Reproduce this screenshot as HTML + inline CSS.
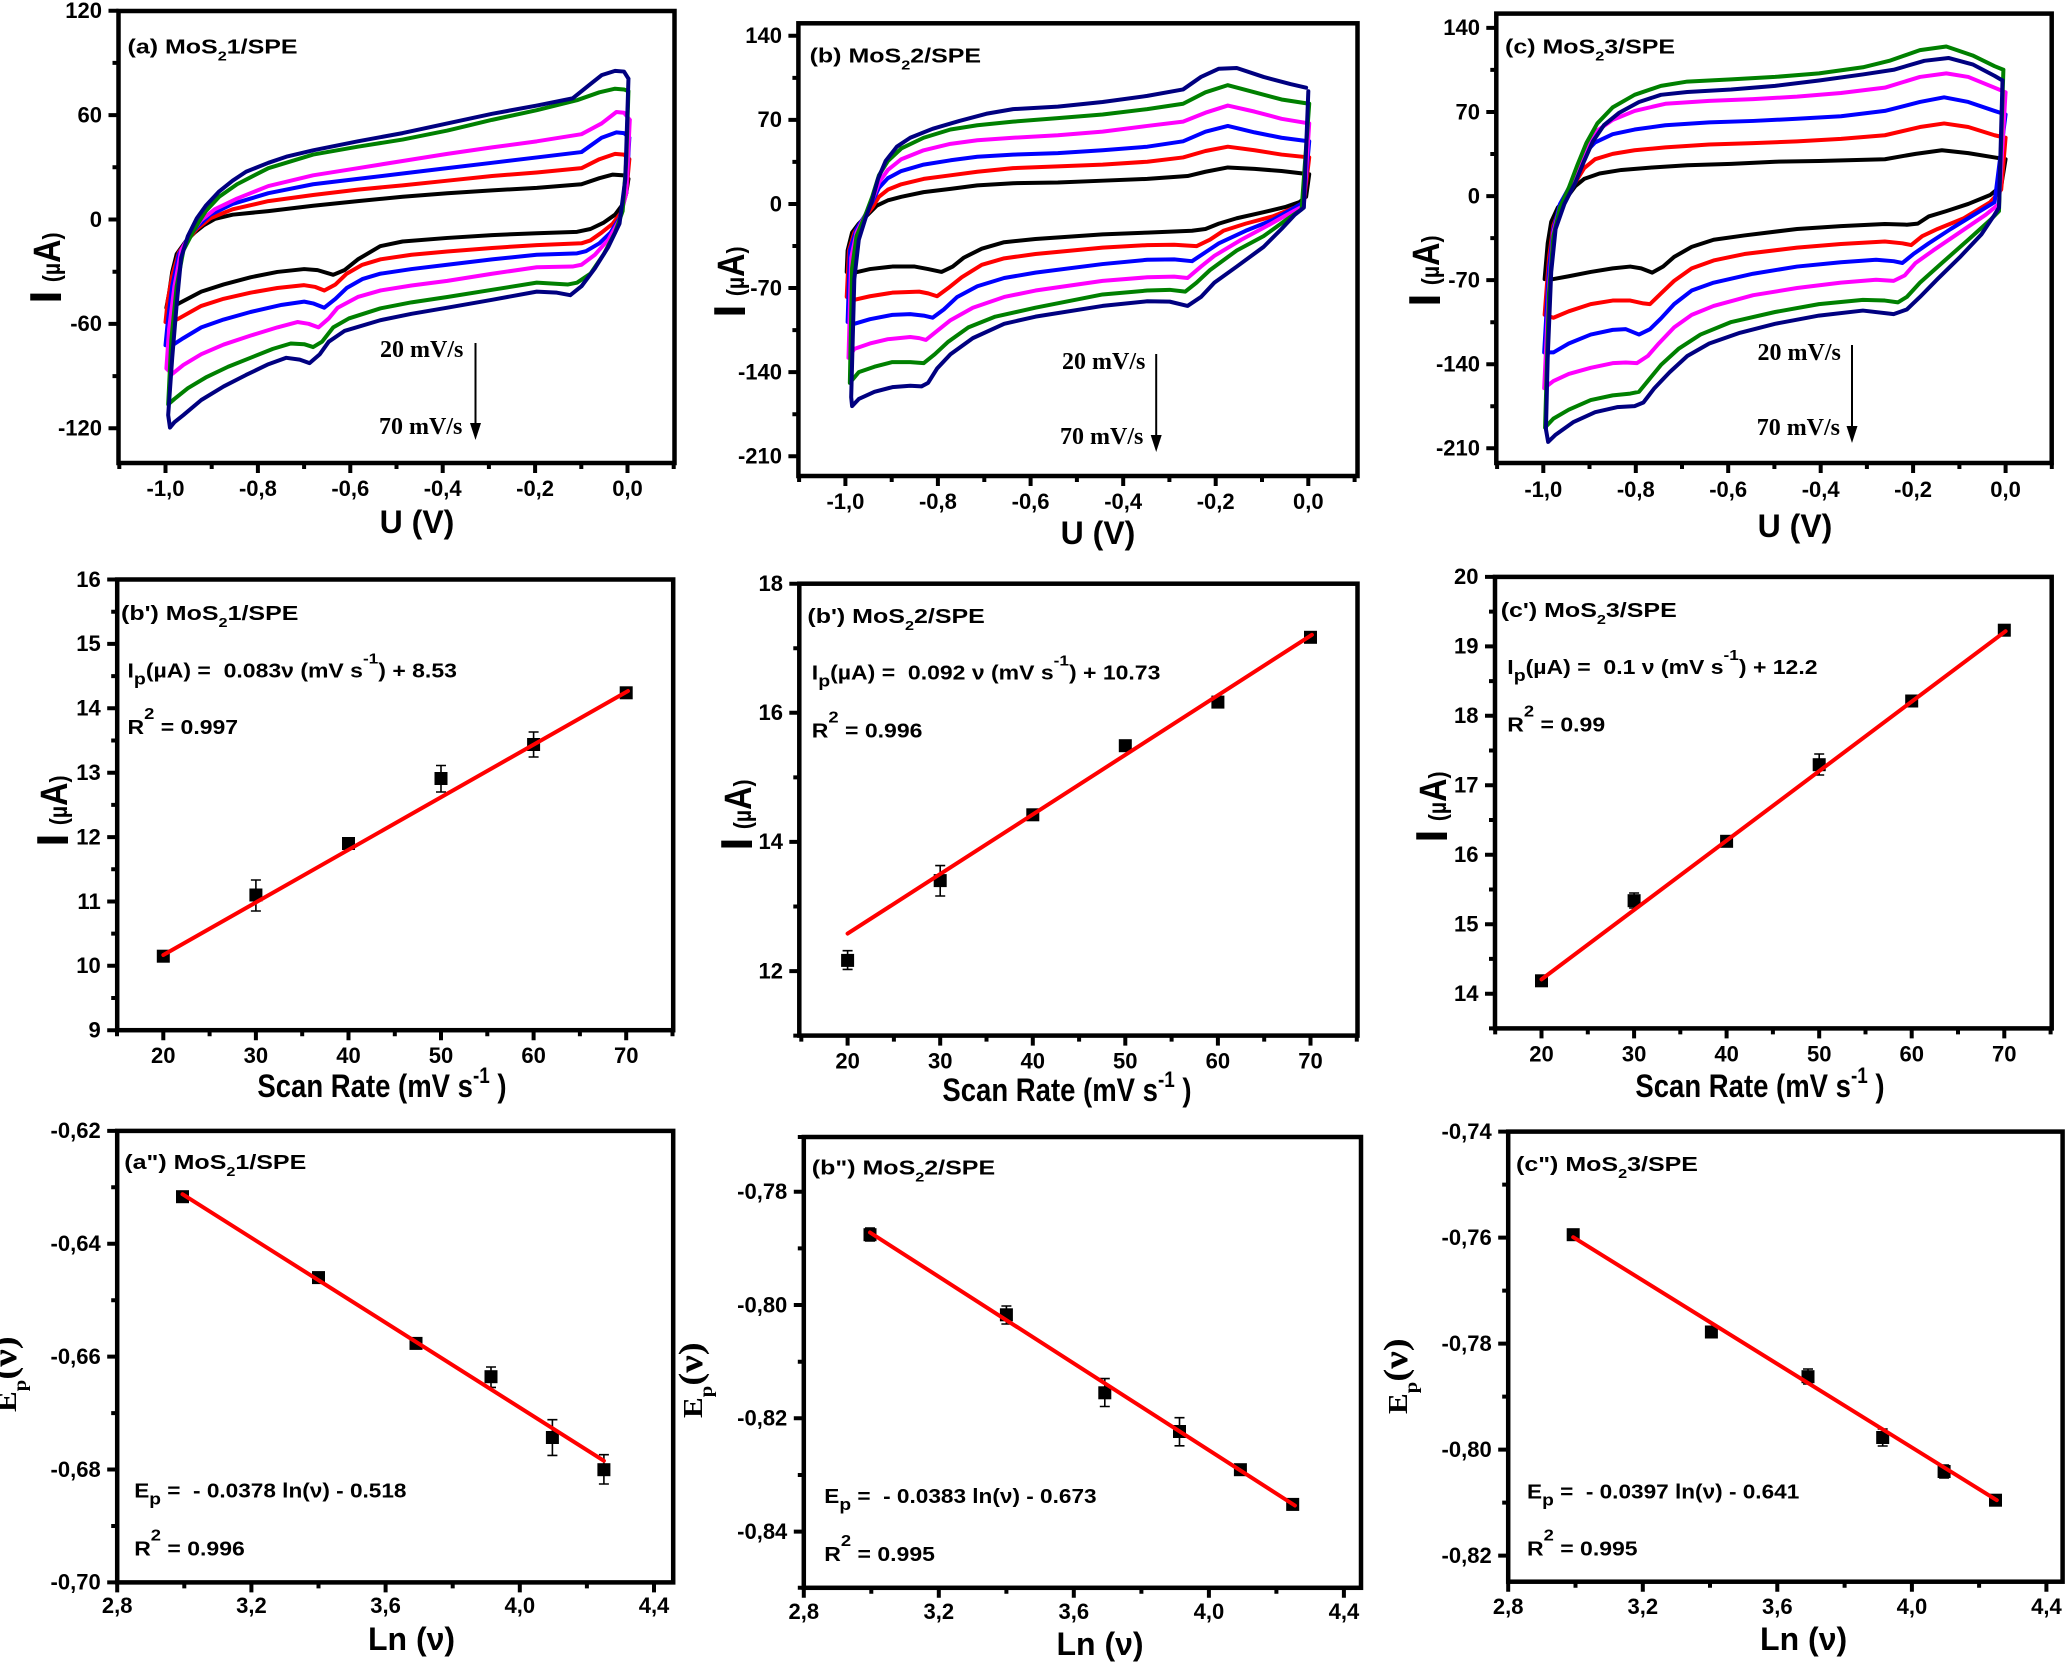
<!DOCTYPE html>
<html><head><meta charset="utf-8"><style>
html,body{margin:0;padding:0;background:#fff;}
svg{display:block;}
text{font-family:"Liberation Sans",Arial,sans-serif;font-weight:bold;fill:#000;white-space:pre;}
.tk{font-size:22px;}
.tt{font-size:20px;}
.eq{font-size:20px;}
.ax{font-size:32px;}
.sr{font-family:"Liberation Serif","Times New Roman",serif;font-size:24px;}
.cv path{vector-effect:non-scaling-stroke;fill:none;stroke-width:4;stroke-linejoin:round;stroke-linecap:round;}
.fr{fill:none;stroke:#000;stroke-width:4.5;}
.ti{fill:none;stroke:#000;stroke-width:4;}
.fit{stroke:#ff0000;stroke-width:4;stroke-linecap:round;}
.eb{stroke:#000;stroke-width:1.6;fill:none;}
</style></head><body>
<svg width="2067" height="1663" viewBox="0 0 2067 1663" xmlns="http://www.w3.org/2000/svg">
<rect width="2067" height="1663" fill="#fff"/>

<!-- ============ PANEL (a) ============ -->
<g class="cv" transform="matrix(0.4473 0 0 0.3578 0 0)">
<path stroke="#000000" d="M1405,500 L1395,490 L1370,488 L1340,498 L1300,515 L1200,525 L1100,532 L1000,540 L900,550 L800,562 L700,575 L600,590 L520,600 L480,612 L455,630 L435,650 L415,675 L395,710 L385,760 L378,820 L372,860 L380,860 L400,848 L450,815 L500,795 L560,775 L620,760 L680,752 L710,755 L745,768 L770,755 L800,725 L850,688 L900,675 L1000,665 L1100,657 L1200,652 L1290,648 L1320,640 L1350,622 L1375,600 L1390,575 L1400,540 L1405,500"/>
<path stroke="#ff0000" d="M1407,445 L1395,432 L1375,430 L1340,445 L1300,470 L1200,482 L1100,492 L1000,505 L900,518 L800,530 L700,545 L600,562 L520,585 L470,610 L440,640 L420,670 L400,705 L385,770 L375,840 L370,900 L380,902 L400,890 L450,855 L500,835 L560,818 L620,805 L680,797 L705,802 L725,812 L750,795 L775,765 L810,740 L850,725 L920,712 L1000,703 L1100,693 L1200,685 L1300,680 L1320,672 L1345,650 L1370,625 L1388,595 L1400,540 L1407,445"/>
<path stroke="#0000ff" d="M1407,385 L1395,372 L1378,370 L1345,385 L1300,425 L1200,440 L1100,455 L1000,470 L900,485 L800,500 L700,515 L600,540 L520,570 L470,600 L440,635 L420,665 L400,710 L385,800 L375,900 L370,965 L385,965 L410,945 L450,915 L500,893 L560,872 L630,852 L680,843 L700,848 L725,860 L750,835 L775,805 L810,780 L850,765 L920,752 L1000,740 L1100,725 L1200,712 L1290,708 L1310,702 L1340,680 L1365,650 L1385,610 L1400,540 L1407,385"/>
<path stroke="#ff00ff" d="M1408,335 L1395,315 L1378,313 L1345,345 L1300,375 L1200,395 L1100,412 L1000,430 L900,450 L800,470 L700,490 L600,520 L530,555 L480,585 L450,615 L425,655 L405,700 L390,800 L378,920 L372,1030 L385,1045 L410,1020 L450,990 L500,963 L560,938 L620,915 L665,900 L690,905 L712,915 L735,890 L755,860 L800,830 L850,812 L920,798 L1000,785 L1100,765 L1200,747 L1280,745 L1300,740 L1330,712 L1360,670 L1385,615 L1400,540 L1408,335"/>
<path stroke="#008000" d="M1405,255 L1395,250 L1375,248 L1340,258 L1290,280 L1200,308 L1100,335 L1000,365 L900,390 L800,410 L700,432 L600,470 L530,515 L490,550 L460,590 L435,640 L410,700 L395,800 L383,950 L376,1130 L390,1115 L420,1085 L460,1055 L510,1025 L560,1000 L610,975 L650,960 L680,962 L700,970 L720,955 L745,915 L780,890 L850,862 L920,845 L1000,830 L1100,810 L1200,790 L1270,795 L1290,790 L1320,765 L1350,710 L1375,650 L1392,590 L1400,450 L1405,255"/>
<path stroke="#000080" d="M1405,220 L1395,200 L1375,198 L1345,210 L1320,235 L1280,275 L1200,295 L1100,318 L1000,345 L900,372 L800,395 L700,420 L640,438 L600,455 L550,480 L520,505 L490,535 L460,575 L440,610 L420,660 L405,720 L395,850 L385,1000 L376,1160 L380,1195 L390,1180 L410,1160 L450,1118 L500,1080 L550,1048 L600,1018 L640,1000 L670,1005 L692,1015 L715,990 L735,955 L770,925 L850,895 L920,877 L1000,860 L1100,838 L1200,815 L1245,818 L1275,825 L1300,800 L1330,750 L1360,690 L1385,625 L1398,500 L1405,220"/>
</g>
<rect class="fr" x="118.5" y="11" width="556" height="452"/>
<path class="ti" d="M165.5,463v10M257.9,463v10M350.3,463v10M442.7,463v10M535.1,463v10M627.5,463v10M119.3,463v6M211.7,463v6M304.1,463v6M396.5,463v6M488.9,463v6M581.3,463v6M673.7,463v6M118.5,10.7h-10M118.5,115.1h-10M118.5,219.5h-10M118.5,323.9h-10M118.5,428.3h-10M118.5,62.9h-6M118.5,167.3h-6M118.5,271.7h-6M118.5,376.1h-6"/>
<g class="tk" text-anchor="end">
<text x="102" y="18">120</text><text x="102" y="122.4">60</text><text x="102" y="226.8">0</text><text x="102" y="331.2">-60</text><text x="102" y="435.6">-120</text>
</g>
<g class="tk" text-anchor="middle">
<text x="165.5" y="496">-1,0</text><text x="257.9" y="496">-0,8</text><text x="350.3" y="496">-0,6</text><text x="442.7" y="496">-0,4</text><text x="535.1" y="496">-0,2</text><text x="627.5" y="496">0,0</text>
</g>
<text class="ax" x="417" y="533" text-anchor="middle">U (V)</text>
<text transform="translate(60,302) rotate(-90) scale(0.85,1)"><tspan font-size="42" stroke="#000" stroke-width="2">I </tspan><tspan font-size="25">(µ</tspan><tspan font-size="38">A</tspan><tspan font-size="25">)</tspan></text>
<text class="tt" transform="translate(127.5,53.7) scale(1.25,1)">(a) MoS<tspan font-size="13" dy="7">2</tspan><tspan dy="-7">1/SPE</tspan></text>
<text class="sr" x="380" y="357">20 mV/s</text>
<text class="sr" x="379" y="434">70 mV/s</text>
<line x1="475.5" y1="343" x2="475.5" y2="428" stroke="#000" stroke-width="2"/>
<polygon points="470,423 481,423 475.5,440" fill="#000"/>

<!-- ============ PANEL (b) ============ -->
<g class="cv" transform="matrix(0.4473 0 0 0.3578 700 0)">
<path stroke="#000000" d="M1362,487 L1300,478 L1240,472 L1180,468 L1130,480 L1090,492 L1000,500 L900,505 L800,510 L700,512 L620,518 L560,528 L500,537 L450,550 L420,560 L395,575 L375,600 L355,625 L340,650 L330,700 L328,760 L345,762 L380,752 L430,745 L480,745 L510,752 L540,760 L565,745 L590,720 L630,695 L680,677 L750,668 L900,655 L1000,650 L1100,645 L1130,640 L1160,625 L1200,610 L1260,593 L1310,578 L1340,565 L1355,550 L1362,487"/>
<path stroke="#ff0000" d="M1362,440 L1300,432 L1240,420 L1180,410 L1130,422 L1080,440 L1000,452 L900,460 L800,465 L700,470 L620,480 L560,490 L500,500 L450,515 L420,530 L400,550 L385,580 L360,620 L345,650 L333,700 L328,830 L345,838 L380,828 L430,818 L490,815 L510,820 L530,828 L555,805 L585,775 L630,740 L680,722 L750,710 L900,692 L1000,685 L1060,684 L1110,688 L1140,670 L1170,645 L1220,625 L1280,605 L1330,580 L1350,565 L1362,440"/>
<path stroke="#0000ff" d="M1362,395 L1300,385 L1240,370 L1180,352 L1130,368 L1080,395 L1000,410 L900,420 L800,428 L700,432 L620,438 L560,448 L500,460 L450,478 L420,498 L400,525 L385,565 L370,600 L350,640 L335,700 L330,900 L345,905 L380,892 L430,880 L470,878 L500,882 L520,888 L545,865 L575,830 L620,800 L680,777 L750,762 L900,738 L1000,726 L1060,725 L1100,730 L1130,705 L1160,680 L1220,645 L1280,615 L1330,580 L1350,565 L1362,395"/>
<path stroke="#ff00ff" d="M1362,345 L1300,332 L1240,312 L1180,295 L1130,315 L1080,340 L1000,352 L900,368 L800,378 L700,385 L620,392 L560,402 L500,420 L450,445 L420,475 L400,510 L385,560 L370,600 L350,650 L338,720 L332,1000 L345,975 L380,960 L420,948 L470,942 L490,945 L505,950 L530,925 L560,895 L610,860 L680,830 L750,812 L900,785 L1000,775 L1060,773 L1090,777 L1120,745 L1150,715 L1210,670 L1270,630 L1320,595 L1350,575 L1362,345"/>
<path stroke="#008000" d="M1362,290 L1300,278 L1240,258 L1180,238 L1130,258 L1080,290 L1000,305 L900,320 L800,330 L700,340 L620,350 L560,362 L500,385 L450,415 L420,450 L400,490 L385,550 L370,600 L350,660 L340,750 L335,1070 L355,1040 L390,1025 L430,1012 L470,1012 L500,1015 L525,990 L555,955 L600,915 L660,885 L750,860 L900,823 L1000,812 L1050,810 L1085,815 L1110,790 L1140,755 L1200,700 L1260,660 L1310,615 L1345,585 L1362,290"/>
<path stroke="#000080" d="M1355,245 L1320,235 L1260,215 L1200,190 L1160,192 L1120,215 L1080,250 L1000,268 L900,285 L800,298 L700,305 L640,318 L580,338 L520,360 L470,385 L440,410 L415,450 L398,500 L385,560 L370,610 L355,670 L345,780 L338,1110 L340,1135 L355,1115 L390,1095 L430,1082 L470,1078 L495,1080 L510,1070 L530,1030 L560,990 L610,945 L680,905 L750,885 L900,855 L1000,842 L1050,843 L1090,855 L1120,830 L1150,790 L1200,745 L1260,690 L1300,640 L1330,600 L1350,580 L1360,255"/>
</g>
<rect class="fr" x="798.4" y="23.3" width="559.1" height="452.7"/>
<path class="ti" d="M845.4,476v10M937.9,476v10M1030.6,476v10M1123.2,476v10M1215.7,476v10M1308.3,476v10M799.1,476v6M891.7,476v6M984.3,476v6M1076.9,476v6M1169.4,476v6M1262,476v6M1354.6,476v6M798.4,35.8h-10M798.4,119.9h-10M798.4,204h-10M798.4,288h-10M798.4,372.1h-10M798.4,456.2h-10M798.4,77.9h-6M798.4,161.9h-6M798.4,246h-6M798.4,330.1h-6M798.4,414.2h-6"/>
<g class="tk" text-anchor="end">
<text x="782" y="43.1">140</text><text x="782" y="127.2">70</text><text x="782" y="211.3">0</text><text x="782" y="295.3">-70</text><text x="782" y="379.4">-140</text><text x="782" y="463.5">-210</text>
</g>
<g class="tk" text-anchor="middle">
<text x="845.4" y="509">-1,0</text><text x="937.9" y="509">-0,8</text><text x="1030.6" y="509">-0,6</text><text x="1123.2" y="509">-0,4</text><text x="1215.7" y="509">-0,2</text><text x="1308.3" y="509">0,0</text>
</g>
<text class="ax" x="1098" y="544" text-anchor="middle">U (V)</text>
<text transform="translate(744,316) rotate(-90) scale(0.85,1)"><tspan font-size="42" stroke="#000" stroke-width="2">I </tspan><tspan font-size="25">(µ</tspan><tspan font-size="38">A</tspan><tspan font-size="25">)</tspan></text>
<text class="tt" transform="translate(809.6,62.6) scale(1.25,1)">(b) MoS<tspan font-size="13" dy="7">2</tspan><tspan dy="-7">2/SPE</tspan></text>
<text class="sr" x="1062" y="369">20 mV/s</text>
<text class="sr" x="1060" y="444">70 mV/s</text>
<line x1="1156.2" y1="354" x2="1156.2" y2="440" stroke="#000" stroke-width="2"/>
<polygon points="1150.7,435 1161.7,435 1156.2,452" fill="#000"/>

<!-- ============ PANEL (c) ============ -->
<g class="cv" transform="matrix(0.439 0 0 0.3578 1380 0)">
<path stroke="#000000" d="M1425,445 L1400,440 L1340,428 L1280,420 L1220,430 L1150,445 L1000,450 L900,452 L800,458 L700,462 L620,468 L550,475 L500,485 L465,500 L445,520 L430,545 L405,580 L390,620 L382,680 L375,780 L395,780 L430,772 L480,760 L530,750 L570,745 L595,750 L620,762 L645,745 L670,718 L710,690 L760,670 L830,658 L950,640 L1050,632 L1150,626 L1200,628 L1225,625 L1250,605 L1290,590 L1340,570 L1390,545 L1415,520 L1425,445"/>
<path stroke="#ff0000" d="M1425,385 L1400,378 L1340,355 L1285,345 L1230,355 L1150,378 L1050,388 L950,395 L850,400 L750,404 L650,412 L580,420 L530,430 L490,445 L465,470 L450,500 L435,530 L410,580 L395,630 L385,720 L375,880 L395,888 L430,870 L480,850 L530,840 L570,840 L600,848 L615,850 L640,820 L670,785 L710,750 L760,728 L830,710 L950,692 L1050,682 L1150,675 L1190,680 L1210,685 L1235,660 L1270,640 L1330,610 L1390,565 L1415,530 L1425,385"/>
<path stroke="#0000ff" d="M1425,320 L1400,310 L1340,285 L1285,272 L1230,285 L1150,310 L1050,325 L950,332 L850,338 L750,342 L650,350 L580,362 L530,375 L490,398 L465,430 L450,470 L435,515 L410,570 L395,640 L385,750 L374,985 L395,985 L430,960 L480,935 L530,922 L560,920 L590,935 L615,920 L640,890 L670,850 L710,812 L760,790 L850,765 L950,745 L1050,733 L1130,726 L1170,730 L1190,735 L1215,710 L1250,680 L1300,640 L1360,595 L1400,565 L1425,320"/>
<path stroke="#ff00ff" d="M1425,258 L1400,245 L1340,215 L1290,205 L1230,215 L1150,245 L1050,260 L950,270 L850,277 L750,282 L650,290 L580,310 L530,335 L495,365 L470,410 L450,470 L430,530 L410,580 L395,650 L385,800 L374,1085 L395,1065 L430,1045 L480,1028 L530,1015 L560,1013 L585,1015 L610,995 L635,960 L670,915 L710,880 L760,855 L850,825 L950,805 L1050,790 L1130,782 L1170,785 L1195,770 L1220,735 L1260,700 L1320,650 L1380,600 L1410,570 L1425,258"/>
<path stroke="#008000" d="M1420,195 L1400,185 L1350,155 L1290,130 L1230,140 L1160,170 L1100,188 L1000,205 L900,215 L800,222 L700,228 L640,240 L580,265 L530,300 L495,345 L470,400 L450,460 L430,525 L410,580 L395,660 L385,820 L376,1195 L395,1170 L430,1145 L480,1118 L530,1105 L570,1100 L590,1095 L610,1065 L640,1020 L680,975 L730,935 L800,900 L900,872 L1000,850 L1100,838 L1150,840 L1180,845 L1200,830 L1230,790 L1280,735 L1340,670 L1390,615 L1410,590 L1420,195"/>
<path stroke="#000080" d="M1418,225 L1400,212 L1350,180 L1295,162 L1240,170 L1170,195 L1100,208 L1000,225 L900,240 L800,250 L700,257 L640,265 L590,285 L545,315 L510,350 L485,395 L465,450 L445,510 L420,570 L400,640 L390,760 L382,1000 L378,1200 L383,1235 L400,1215 L440,1180 L490,1152 L540,1138 L580,1135 L600,1125 L625,1085 L660,1040 L700,995 L750,960 L820,930 L900,905 L1000,882 L1100,868 L1170,878 L1200,865 L1230,830 L1270,780 L1320,720 L1370,655 L1400,600 L1410,580 L1418,225"/>
</g>
<rect class="fr" x="1496.3" y="13.6" width="555.4" height="449.4"/>
<path class="ti" d="M1543.3,463v10M1635.8,463v10M1728.2,463v10M1820.7,463v10M1913.1,463v10M2005.6,463v10M1497.1,463v6M1589.5,463v6M1682,463v6M1774.4,463v6M1866.9,463v6M1959.4,463v6M2051.8,463v6M1496.3,27.9h-10M1496.3,112h-10M1496.3,196.1h-10M1496.3,280.1h-10M1496.3,364.2h-10M1496.3,448.3h-10M1496.3,69.9h-6M1496.3,154h-6M1496.3,238.1h-6M1496.3,322.2h-6M1496.3,406.3h-6"/>
<g class="tk" text-anchor="end">
<text x="1480" y="35.2">140</text><text x="1480" y="119.3">70</text><text x="1480" y="203.4">0</text><text x="1480" y="287.4">-70</text><text x="1480" y="371.5">-140</text><text x="1480" y="455.6">-210</text>
</g>
<g class="tk" text-anchor="middle">
<text x="1543.3" y="497">-1,0</text><text x="1635.8" y="497">-0,8</text><text x="1728.2" y="497">-0,6</text><text x="1820.7" y="497">-0,4</text><text x="1913.1" y="497">-0,2</text><text x="2005.6" y="497">0,0</text>
</g>
<text class="ax" x="1795" y="537" text-anchor="middle">U (V)</text>
<text transform="translate(1439,305) rotate(-90) scale(0.85,1)"><tspan font-size="42" stroke="#000" stroke-width="2">I </tspan><tspan font-size="25">(µ</tspan><tspan font-size="38">A</tspan><tspan font-size="25">)</tspan></text>
<text class="tt" transform="translate(1505,53.7) scale(1.25,1)">(c) MoS<tspan font-size="13" dy="7">2</tspan><tspan dy="-7">3/SPE</tspan></text>
<text class="sr" x="1757.5" y="360">20 mV/s</text>
<text class="sr" x="1756.7" y="435">70 mV/s</text>
<line x1="1852" y1="345" x2="1852" y2="431" stroke="#000" stroke-width="2"/>
<polygon points="1846.5,426 1857.5,426 1852,443" fill="#000"/>

<!-- ============ PANEL (a') ============ -->
<rect class="fr" x="117.2" y="579.5" width="556" height="450.7"/>
<path class="ti" d="M163.3,1030.2v10M255.9,1030.2v10M348.5,1030.2v10M441,1030.2v10M533.6,1030.2v10M626.2,1030.2v10M117,1030.2v6M209.6,1030.2v6M302.2,1030.2v6M394.8,1030.2v6M487.3,1030.2v6M579.9,1030.2v6M672.5,1030.2v6M117.2,579.5h-10M117.2,643.9h-10M117.2,708.3h-10M117.2,772.7h-10M117.2,837.1h-10M117.2,901.5h-10M117.2,965.8h-10M117.2,1030.2h-10M117.2,611.7h-6M117.2,676.1h-6M117.2,740.5h-6M117.2,804.9h-6M117.2,869.3h-6M117.2,933.6h-6M117.2,998h-6"/>
<g class="tk" text-anchor="end">
<text x="100.7" y="586.8">16</text><text x="100.7" y="651.2">15</text><text x="100.7" y="715.6">14</text><text x="100.7" y="780">13</text><text x="100.7" y="844.4">12</text><text x="100.7" y="908.8">11</text><text x="100.7" y="973.1">10</text><text x="100.7" y="1037.5">9</text>
</g>
<g class="tk" text-anchor="middle">
<text x="163.3" y="1063">20</text><text x="255.9" y="1063">30</text><text x="348.5" y="1063">40</text><text x="441" y="1063">50</text><text x="533.6" y="1063">60</text><text x="626.2" y="1063">70</text>
</g>
<path class="eb" d="M255.9,880v31M250.9,880h10M250.9,911h10M441,765.5v26.5M436,765.5h10M436,792h10M533.6,732v25M528.6,732h10M528.6,757h10"/>
<g fill="#000">
<rect x="156.8" y="949.7" width="13" height="13"/><rect x="249.4" y="888.5" width="13" height="13"/><rect x="342" y="837" width="13" height="13"/><rect x="434.5" y="772" width="13" height="13"/><rect x="527.1" y="738" width="13" height="13"/><rect x="619.7" y="686.3" width="13" height="13"/>
</g>
<line class="fit" x1="163.3" y1="955" x2="628" y2="691"/>
<text class="tt" transform="translate(121,620) scale(1.25,1)">(b') MoS<tspan font-size="13" dy="7">2</tspan><tspan dy="-7">1/SPE</tspan></text>
<text class="eq" transform="translate(127.5,677.7) scale(1.15,1)">I<tspan font-size="17" dy="7">p</tspan><tspan dy="-7">(µA) =  0.083ν (mV s</tspan><tspan font-size="15" dy="-14">-1</tspan><tspan dy="14">) + 8.53</tspan></text>
<text class="eq" transform="translate(127.5,734) scale(1.15,1)">R<tspan font-size="16" dy="-15">2</tspan><tspan dy="15"> = 0.997</tspan></text>
<text transform="translate(67,845) rotate(-90) scale(0.85,1)"><tspan font-size="42" stroke="#000" stroke-width="2">I </tspan><tspan font-size="25">(µ</tspan><tspan font-size="38">A</tspan><tspan font-size="25">)</tspan></text>
<text class="ax" text-anchor="middle" transform="translate(382,1097) scale(0.86,1)" font-size="34">Scan Rate (mV s<tspan font-size="22" dy="-14">-1</tspan><tspan dy="14"> )</tspan></text>

<!-- ============ PANEL (b') ============ -->
<rect class="fr" x="799.3" y="583.7" width="558.2" height="451.9"/>
<path class="ti" d="M847.6,1035.6v10M940.2,1035.6v10M1032.8,1035.6v10M1125.3,1035.6v10M1217.9,1035.6v10M1310.5,1035.6v10M801.3,1035.6v6M893.9,1035.6v6M986.5,1035.6v6M1079.1,1035.6v6M1171.6,1035.6v6M1264.2,1035.6v6M1356.8,1035.6v6M799.3,583.7h-10M799.3,712.8h-10M799.3,841.9h-10M799.3,971.1h-10M799.3,648.3h-6M799.3,777.4h-6M799.3,906.5h-6M799.3,1035.6h-6"/>
<g class="tk" text-anchor="end">
<text x="783" y="591">18</text><text x="783" y="720.1">16</text><text x="783" y="849.2">14</text><text x="783" y="978.4">12</text>
</g>
<g class="tk" text-anchor="middle">
<text x="847.6" y="1068.6">20</text><text x="940.2" y="1068.6">30</text><text x="1032.8" y="1068.6">40</text><text x="1125.3" y="1068.6">50</text><text x="1217.9" y="1068.6">60</text><text x="1310.5" y="1068.6">70</text>
</g>
<path class="eb" d="M847.6,950.7v18.7M842.6,950.7h10M842.6,969.4h10M940.2,865.6v30.4M935.2,865.6h10M935.2,896h10"/>
<g fill="#000">
<rect x="841.1" y="953.9" width="13" height="13"/><rect x="933.7" y="874.1" width="13" height="13"/><rect x="1026.3" y="808.3" width="13" height="13"/><rect x="1118.8" y="739.2" width="13" height="13"/><rect x="1211.4" y="695.6" width="13" height="13"/><rect x="1304" y="630.8" width="13" height="13"/>
</g>
<line class="fit" x1="847.6" y1="933.6" x2="1311.9" y2="634.8"/>
<text class="tt" transform="translate(807.4,623) scale(1.25,1)">(b') MoS<tspan font-size="13" dy="7">2</tspan><tspan dy="-7">2/SPE</tspan></text>
<text class="eq" transform="translate(811.8,679.5) scale(1.15,1)">I<tspan font-size="17" dy="7">p</tspan><tspan dy="-7">(µA) =  0.092 ν (mV s</tspan><tspan font-size="15" dy="-14">-1</tspan><tspan dy="14">) + 10.73</tspan></text>
<text class="eq" transform="translate(811.8,737.5) scale(1.15,1)">R<tspan font-size="16" dy="-15">2</tspan><tspan dy="15"> = 0.996</tspan></text>
<text transform="translate(751,849) rotate(-90) scale(0.85,1)"><tspan font-size="42" stroke="#000" stroke-width="2">I </tspan><tspan font-size="25">(µ</tspan><tspan font-size="38">A</tspan><tspan font-size="25">)</tspan></text>
<text class="ax" text-anchor="middle" transform="translate(1067,1101) scale(0.86,1)" font-size="34">Scan Rate (mV s<tspan font-size="22" dy="-14">-1</tspan><tspan dy="14"> )</tspan></text>

<!-- ============ PANEL (c') ============ -->
<rect class="fr" x="1495" y="576.9" width="556.7" height="451.5"/>
<path class="ti" d="M1541.5,1028.4v10M1634.1,1028.4v10M1726.6,1028.4v10M1819.2,1028.4v10M1911.7,1028.4v10M2004.3,1028.4v10M1495.2,1028.4v6M1587.8,1028.4v6M1680.3,1028.4v6M1772.9,1028.4v6M1865.5,1028.4v6M1958,1028.4v6M2050.6,1028.4v6M1495,576.9h-10M1495,646.4h-10M1495,715.8h-10M1495,785.3h-10M1495,854.7h-10M1495,924.2h-10M1495,993.7h-10M1495,611.6h-6M1495,681.1h-6M1495,750.5h-6M1495,820h-6M1495,889.5h-6M1495,958.9h-6M1495,1028.4h-6"/>
<g class="tk" text-anchor="end">
<text x="1478.5" y="584.2">20</text><text x="1478.5" y="653.7">19</text><text x="1478.5" y="723.1">18</text><text x="1478.5" y="792.6">17</text><text x="1478.5" y="862">16</text><text x="1478.5" y="931.5">15</text><text x="1478.5" y="1001">14</text>
</g>
<g class="tk" text-anchor="middle">
<text x="1541.5" y="1061.4">20</text><text x="1634.1" y="1061.4">30</text><text x="1726.6" y="1061.4">40</text><text x="1819.2" y="1061.4">50</text><text x="1911.7" y="1061.4">60</text><text x="2004.3" y="1061.4">70</text>
</g>
<path class="eb" d="M1634.1,893v15M1629.1,893h10M1629.1,908h10M1819.2,754v21M1814.2,754h10M1814.2,775h10"/>
<g fill="#000">
<rect x="1535" y="974.3" width="13" height="13"/><rect x="1627.6" y="894.2" width="13" height="13"/><rect x="1720.1" y="834.8" width="13" height="13"/><rect x="1812.7" y="758.2" width="13" height="13"/><rect x="1905.2" y="694.5" width="13" height="13"/><rect x="1997.8" y="623.7" width="13" height="13"/>
</g>
<line class="fit" x1="1541.5" y1="979.4" x2="2005.6" y2="631.2"/>
<text class="tt" transform="translate(1500.7,617) scale(1.25,1)">(c') MoS<tspan font-size="13" dy="7">2</tspan><tspan dy="-7">3/SPE</tspan></text>
<text class="eq" transform="translate(1507.3,674.2) scale(1.15,1)">I<tspan font-size="17" dy="7">p</tspan><tspan dy="-7">(µA) =  0.1 ν (mV s</tspan><tspan font-size="15" dy="-14">-1</tspan><tspan dy="14">) + 12.2</tspan></text>
<text class="eq" transform="translate(1507.3,731.4) scale(1.15,1)">R<tspan font-size="16" dy="-15">2</tspan><tspan dy="15"> = 0.99</tspan></text>
<text transform="translate(1446,841) rotate(-90) scale(0.85,1)"><tspan font-size="42" stroke="#000" stroke-width="2">I </tspan><tspan font-size="25">(µ</tspan><tspan font-size="38">A</tspan><tspan font-size="25">)</tspan></text>
<text class="ax" text-anchor="middle" transform="translate(1760,1097) scale(0.86,1)" font-size="34">Scan Rate (mV s<tspan font-size="22" dy="-14">-1</tspan><tspan dy="14"> )</tspan></text>

<!-- ============ PANEL (a'') ============ -->
<rect class="fr" x="117.2" y="1130.9" width="556" height="451.5"/>
<path class="ti" d="M117.2,1582.4v10M251.4,1582.4v10M385.6,1582.4v10M519.8,1582.4v10M654,1582.4v10M184.3,1582.4v6M318.5,1582.4v6M452.7,1582.4v6M586.9,1582.4v6M117.2,1130.9h-10M117.2,1243.8h-10M117.2,1356.6h-10M117.2,1469.5h-10M117.2,1582.4h-10M117.2,1187.3h-6M117.2,1300.2h-6M117.2,1413.1h-6M117.2,1526h-6"/>
<g class="tk" text-anchor="end">
<text x="100.7" y="1138.2">-0,62</text><text x="100.7" y="1251.1">-0,64</text><text x="100.7" y="1363.9">-0,66</text><text x="100.7" y="1476.8">-0,68</text><text x="100.7" y="1589.7">-0,70</text>
</g>
<g class="tk" text-anchor="middle">
<text x="117.2" y="1613">2,8</text><text x="251.4" y="1613">3,2</text><text x="385.6" y="1613">3,6</text><text x="519.8" y="1613">4,0</text><text x="654" y="1613">4,4</text>
</g>
<path class="eb" d="M491,1367v20.4M486,1367h10M486,1387.4h10M552.4,1419.7v35.7M547.4,1419.7h10M547.4,1455.4h10M603.9,1454.7v29.3M598.9,1454.7h10M598.9,1484h10"/>
<g fill="#000">
<rect x="176" y="1190.2" width="13" height="13"/><rect x="312" y="1271.1" width="13" height="13"/><rect x="409.5" y="1336.9" width="13" height="13"/><rect x="484.5" y="1370.2" width="13" height="13"/><rect x="545.9" y="1431" width="13" height="13"/><rect x="597.4" y="1463.2" width="13" height="13"/>
</g>
<line class="fit" x1="182.5" y1="1194.2" x2="603.9" y2="1460.8"/>
<text class="tt" transform="translate(124.3,1169) scale(1.25,1)">(a") MoS<tspan font-size="13" dy="7">2</tspan><tspan dy="-7">1/SPE</tspan></text>
<text class="eq" transform="translate(134.2,1497.3) scale(1.13,1)">E<tspan font-size="17" dy="7">p</tspan><tspan dy="-7"> =  - 0.0378 ln(ν) - 0.518</tspan></text>
<text class="eq" transform="translate(134.2,1555.6) scale(1.15,1)">R<tspan font-size="16" dy="-15">2</tspan><tspan dy="15"> = 0.996</tspan></text>
<text transform="translate(16,1412) rotate(-90) scale(1.15,1)" style="font-family:'Liberation Serif','Times New Roman',serif"><tspan font-size="27">E</tspan><tspan font-size="18" dy="10">p</tspan><tspan font-size="34" dy="-10">(ν)</tspan></text>
<text class="ax" x="411.5" y="1650" text-anchor="middle" font-size="30">Ln (ν)</text>

<!-- ============ PANEL (b'') ============ -->
<rect class="fr" x="803.8" y="1137" width="557.2" height="450.8"/>
<path class="ti" d="M803.8,1587.8v10M938.8,1587.8v10M1073.8,1587.8v10M1208.9,1587.8v10M1343.9,1587.8v10M871.3,1587.8v6M1006.4,1587.8v6M1141.4,1587.8v6M1276.4,1587.8v6M803.8,1191.7h-10M803.8,1305h-10M803.8,1418.3h-10M803.8,1531.6h-10M803.8,1137h-6M803.8,1248.4h-6M803.8,1361.7h-6M803.8,1475h-6M803.8,1587.8h-6"/>
<g class="tk" text-anchor="end">
<text x="787.3" y="1199">-0,78</text><text x="787.3" y="1312.3">-0,80</text><text x="787.3" y="1425.6">-0,82</text><text x="787.3" y="1538.9">-0,84</text>
</g>
<g class="tk" text-anchor="middle">
<text x="803.8" y="1619">2,8</text><text x="938.8" y="1619">3,2</text><text x="1073.8" y="1619">3,6</text><text x="1208.9" y="1619">4,0</text><text x="1343.9" y="1619">4,4</text>
</g>
<path class="eb" d="M870,1228v13M865,1228h10M865,1241h10M1006.4,1306v18M1001.4,1306h10M1001.4,1324h10M1104.8,1378.6v27.9M1099.8,1378.6h10M1099.8,1406.5h10M1179.5,1417.7v28.1M1174.5,1417.7h10M1174.5,1445.8h10"/>
<g fill="#000">
<rect x="863.5" y="1228.2" width="13" height="13"/><rect x="999.9" y="1308.3" width="13" height="13"/><rect x="1098.3" y="1386.3" width="13" height="13"/><rect x="1173" y="1425" width="13" height="13"/><rect x="1233.9" y="1463.2" width="13" height="13"/><rect x="1286.2" y="1497.9" width="13" height="13"/>
</g>
<line class="fit" x1="870" y1="1232.5" x2="1294.9" y2="1505.5"/>
<text class="tt" transform="translate(811.8,1174.6) scale(1.25,1)">(b") MoS<tspan font-size="13" dy="7">2</tspan><tspan dy="-7">2/SPE</tspan></text>
<text class="eq" transform="translate(824.3,1503) scale(1.13,1)">E<tspan font-size="17" dy="7">p</tspan><tspan dy="-7"> =  - 0.0383 ln(ν) - 0.673</tspan></text>
<text class="eq" transform="translate(824.3,1561) scale(1.15,1)">R<tspan font-size="16" dy="-15">2</tspan><tspan dy="15"> = 0.995</tspan></text>
<text transform="translate(702,1418) rotate(-90) scale(1.15,1)" style="font-family:'Liberation Serif','Times New Roman',serif"><tspan font-size="27">E</tspan><tspan font-size="18" dy="10">p</tspan><tspan font-size="34" dy="-10">(ν)</tspan></text>
<text class="ax" x="1100" y="1655" text-anchor="middle" font-size="30">Ln (ν)</text>

<!-- ============ PANEL (c'') ============ -->
<rect class="fr" x="1508.2" y="1131.6" width="554.4" height="450.1"/>
<path class="ti" d="M1508.2,1581.7v10M1642.8,1581.7v10M1777.3,1581.7v10M1911.9,1581.7v10M2046.4,1581.7v10M1575.5,1581.7v6M1710,1581.7v6M1844.6,1581.7v6M1979.1,1581.7v6M1508.2,1131.6h-10M1508.2,1237.6h-10M1508.2,1343.6h-10M1508.2,1449.6h-10M1508.2,1555.6h-10M1508.2,1184.6h-6M1508.2,1290.6h-6M1508.2,1396.6h-6M1508.2,1502.6h-6"/>
<g class="tk" text-anchor="end">
<text x="1491.7" y="1138.9">-0,74</text><text x="1491.7" y="1244.9">-0,76</text><text x="1491.7" y="1350.9">-0,78</text><text x="1491.7" y="1456.9">-0,80</text><text x="1491.7" y="1562.9">-0,82</text>
</g>
<g class="tk" text-anchor="middle">
<text x="1508.2" y="1614">2,8</text><text x="1642.8" y="1614">3,2</text><text x="1777.3" y="1614">3,6</text><text x="1911.9" y="1614">4,0</text><text x="2046.4" y="1614">4,4</text>
</g>
<path class="eb" d="M1808,1369v15M1803,1369h10M1803,1384h10M1882.7,1429v17M1877.7,1429h10M1877.7,1446h10M1944.1,1465v13M1939.1,1465h10M1939.1,1478h10"/>
<g fill="#000">
<rect x="1566.7" y="1228.2" width="13" height="13"/><rect x="1704.9" y="1325.5" width="13" height="13"/><rect x="1801.5" y="1370.2" width="13" height="13"/><rect x="1876.2" y="1431" width="13" height="13"/><rect x="1937.6" y="1465" width="13" height="13"/><rect x="1989" y="1493.7" width="13" height="13"/>
</g>
<line class="fit" x1="1573.2" y1="1237.2" x2="1996.8" y2="1500.2"/>
<text class="tt" transform="translate(1516,1171) scale(1.25,1)">(c") MoS<tspan font-size="13" dy="7">2</tspan><tspan dy="-7">3/SPE</tspan></text>
<text class="eq" transform="translate(1527,1498.4) scale(1.13,1)">E<tspan font-size="17" dy="7">p</tspan><tspan dy="-7"> =  - 0.0397 ln(ν) - 0.641</tspan></text>
<text class="eq" transform="translate(1527,1555.6) scale(1.15,1)">R<tspan font-size="16" dy="-15">2</tspan><tspan dy="15"> = 0.995</tspan></text>
<text transform="translate(1407,1414) rotate(-90) scale(1.15,1)" style="font-family:'Liberation Serif','Times New Roman',serif"><tspan font-size="27">E</tspan><tspan font-size="18" dy="10">p</tspan><tspan font-size="34" dy="-10">(ν)</tspan></text>
<text class="ax" x="1803.6" y="1650" text-anchor="middle" font-size="30">Ln (ν)</text>
</svg>
</body></html>
